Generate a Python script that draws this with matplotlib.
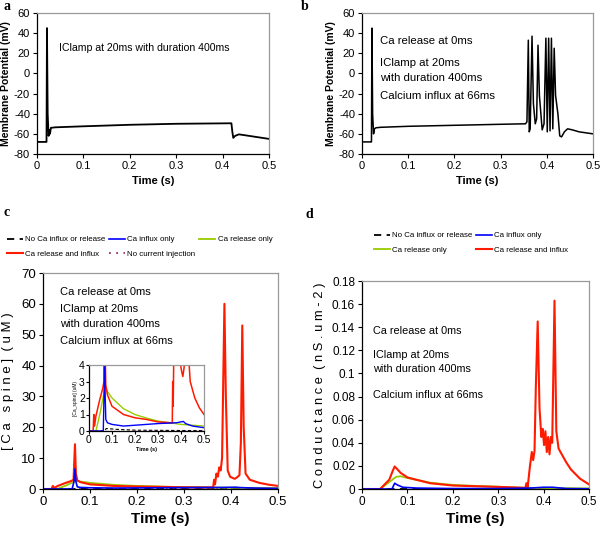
import matplotlib
matplotlib.use("Agg")
import matplotlib.pyplot as plt
from matplotlib import font_manager

names = {f.name for f in font_manager.fontManager.ttflist}
NARROW = ["Liberation Sans Narrow", "Liberation Sans"] if "Liberation Sans Narrow" in names else ["Liberation Sans"]
plt.rcParams["font.family"] = ["Liberation Sans", "DejaVu Sans"]
plt.rcParams["axes.unicode_minus"] = False

# ---- data ----
# a: membrane potential, IClamp only
t_a = [0, 0.0195, 0.0205, 0.0215, 0.023, 0.025, 0.027, 0.028, 0.030, 0.04, 0.1, 0.2, 0.3, 0.419, 0.421, 0.423, 0.427, 0.435, 0.45, 0.5]
v_a = [-68, -68, -68, 45, -40, -62, -56, -60, -54, -53.5, -52.5, -51, -50, -49.5, -58, -64, -62, -60.5, -61.5, -65]

# b: membrane potential, release + clamp + influx
t_b = [0, 0.0195, 0.0205, 0.0215, 0.023, 0.025, 0.027, 0.030, 0.04, 0.1, 0.2, 0.3, 0.354, 0.357, 0.360, 0.362, 0.364, 0.368, 0.371, 0.375, 0.378,
       0.381, 0.384, 0.390, 0.394, 0.398, 0.401, 0.404, 0.407, 0.410, 0.413, 0.416, 0.419, 0.424, 0.428, 0.432, 0.438, 0.445, 0.455, 0.47, 0.5]
v_b = [-68, -68, -68, 45, -40, -60, -55, -54, -53.5, -52.5, -51.5, -50.5, -50, -48, 33, -58, -55, 37, -30, -50, -45,
       28, -22, -56, -50, 35, -58, 35, -57, 35, -55, 25, -22, -40, -62, -63, -58, -55, -56, -58, -60]

# c: [Ca spine] (uM)
t_red_c = [0, 0.018, 0.021, 0.024, 0.03, 0.045, 0.06, 0.065, 0.068, 0.070, 0.073, 0.08, 0.1, 0.15, 0.2, 0.25, 0.3, 0.355, 0.362, 0.364, 0.366, 0.369,
           0.372, 0.375, 0.378, 0.381, 0.386, 0.389, 0.393, 0.398, 0.403, 0.408, 0.413, 0.418, 0.421, 0.424, 0.427, 0.431, 0.44, 0.46, 0.48, 0.5]
ca_red = [0, 0, 1.0, 0.3, 0.9, 1.8, 2.6, 3.0, 14.5, 5.0, 2.8, 2.2, 1.5, 1.0, 0.8, 0.7, 0.55, 0.5, 0.5, 3.0, 1.5, 5.0,
          4.0, 7.0, 6.0, 10, 60, 30, 6.0, 4.0, 3.6, 3.3, 3.8, 4.5, 15, 53, 20, 5.0, 3.0, 2.0, 1.4, 1.0]
t_grn_c = [0, 0.03, 0.05, 0.065, 0.070, 0.08, 0.1, 0.15, 0.2, 0.25, 0.3, 0.35, 0.4, 0.5]
ca_grn = [0, 0, 1.2, 2.3, 2.7, 2.4, 2.0, 1.35, 1.0, 0.78, 0.6, 0.5, 0.4, 0.3]
t_blu_c = [0, 0.062, 0.066, 0.068, 0.070, 0.073, 0.08, 0.1, 0.15, 0.2, 0.25, 0.3, 0.35, 0.38, 0.41, 0.42, 0.45, 0.5]
ca_blu = [0, 0, 2.5, 6.5, 2.4, 0.7, 0.5, 0.4, 0.3, 0.35, 0.4, 0.45, 0.48, 0.5, 0.58, 0.45, 0.3, 0.2]
t_blk_c = [0, 0.066, 0.075, 0.12, 0.2, 0.5]
ca_blk = [0, 0, 0.15, 0.1, 0.05, 0.02]
t_pur_c = [0, 0.5]
ca_pur = [0, 0]

# d: conductance (nS.um-2)
t_red_d = [0, 0.04, 0.06, 0.068, 0.072, 0.078, 0.085, 0.1, 0.15, 0.2, 0.3, 0.36, 0.362, 0.365, 0.37, 0.374, 0.377, 0.38, 0.383, 0.387,
           0.391, 0.395, 0.398, 0.401, 0.404, 0.407, 0.410, 0.413, 0.416, 0.419, 0.424, 0.428, 0.433, 0.44, 0.45, 0.46, 0.48, 0.5]
g_red = [0, 0, 0.008, 0.016, 0.0195, 0.017, 0.014, 0.010, 0.005, 0.003, 0.0018, 0.001, 0.005, 0.002, 0.02, 0.032, 0.025, 0.033, 0.09, 0.145,
         0.07, 0.045, 0.052, 0.038, 0.05, 0.032, 0.045, 0.03, 0.045, 0.04, 0.163, 0.05, 0.035, 0.03, 0.023, 0.017, 0.009, 0.004]
t_grn_d = [0, 0.04, 0.06, 0.075, 0.085, 0.1, 0.15, 0.2, 0.25, 0.3, 0.36, 0.5]
g_grn = [0, 0, 0.006, 0.0105, 0.011, 0.0095, 0.0055, 0.0035, 0.0027, 0.002, 0.001, 0.0005]
t_blu_d = [0, 0.066, 0.072, 0.078, 0.09, 0.12, 0.2, 0.3, 0.37, 0.40, 0.42, 0.45, 0.5]
g_blu = [0, 0, 0.005, 0.0035, 0.0015, 0.0008, 0.0004, 0.0004, 0.0008, 0.0015, 0.0015, 0.0004, 0.0002]
t_blk_d = [0, 0.5]
g_blk = [0, 0]

x_ticks = [0, 0.1, 0.2, 0.3, 0.4, 0.5]
x_tick_labels = ["0", "0.1", "0.2", "0.3", "0.4", "0.5"]

RED = "#ff1a00"
GRN = "#99cc00"
BLU = "#0000ff"
PUR = "#993366"

W, H = 600, 544
fig = plt.figure(figsize=(6.0, 5.44), dpi=100)


def px_axes(l, r, t, b):
    return fig.add_axes([l / W, 1 - b / H, (r - l) / W, (b - t) / H])


def style(ax, size, fam=None):
    for s in ("top", "right"):
        ax.spines[s].set_color("#999999")
    for s in ("left", "bottom"):
        ax.spines[s].set_color("black")
    for s in ax.spines.values():
        s.set_linewidth(0.9)
    ax.tick_params(direction="out", length=3, width=0.8, labelsize=size, pad=2)
    ax.set_xlim(0, 0.5)
    ax.set_xticks(x_ticks)
    ax.set_xticklabels(x_tick_labels)
    if fam:
        for lab in ax.get_xticklabels() + ax.get_yticklabels():
            lab.set_family(fam)


# ---- panel a ----
ax = px_axes(37, 269, 13, 154)
ax.plot(t_a, v_a, color="black", lw=1.3)
ax.set_ylim(-80, 60)
ax.set_yticks(range(-80, 61, 20))
style(ax, 8)
ax.set_xlabel("Time (s)", fontsize=8, fontweight="bold", labelpad=4)
ax.set_ylabel("Membrane Potential (mV)", fontsize=7.5, fontweight="bold", labelpad=2)
ax.text(0.095, 0.73, "IClamp at 20ms with duration 400ms", transform=ax.transAxes, fontsize=7.6)

# ---- panel b ----
ax = px_axes(362, 593, 13, 154)
ax.plot(t_b, v_b, color="black", lw=1.1)
ax.set_ylim(-80, 60)
ax.set_yticks(range(-80, 61, 20))
style(ax, 8)
ax.set_xlabel("Time (s)", fontsize=8, fontweight="bold", labelpad=4)
ax.set_ylabel("Membrane Potential (mV)", fontsize=7.5, fontweight="bold", labelpad=2)
for txt, y in [("Ca release at 0ms", 41), ("IClamp at 20ms", 63), ("with duration 400ms", 78), ("Calcium influx at 66ms", 96)]:
    ax.text(380, H - y, txt, transform=None, fontsize=8.2, va="center")

# ---- panel c ----
axc = px_axes(43, 278, 273, 489)
axc.plot(t_blk_c, ca_blk, color="black", lw=1.3, ls=(0, (4, 3)), label="No Ca influx or release")
axc.plot(t_pur_c, ca_pur, color=PUR, lw=1.3, ls=(0, (1, 3)), label="No current injection")
axc.plot(t_grn_c, ca_grn, color=GRN, lw=1.3, label="Ca release only")
axc.plot(t_red_c, ca_red, color=RED, lw=1.5, label="Ca release and influx")
axc.plot(t_blu_c, ca_blu, color=BLU, lw=1.2, label="Ca influx only")
axc.set_ylim(0, 70)
axc.set_yticks(range(0, 71, 10))
style(axc, 9.5, NARROW)
axc.set_xlabel("Time (s)", fontsize=11, family=NARROW, fontweight="bold", labelpad=3)
axc.set_ylabel("[ C a   s p i n e ]  ( u M )", fontsize=9.5, family=NARROW, labelpad=5)
for txt, y in [("Ca release at 0ms", 292), ("IClamp at 20ms", 309), ("with duration 400ms", 324), ("Calcium influx at 66ms", 341)]:
    axc.text(60, H - y, txt, transform=None, fontsize=8, family=NARROW, va="center")

h, l = axc.get_legend_handles_labels()
order = ["No Ca influx or release", "Ca release and influx", "Ca influx only", "No current injection", "Ca release only"]
hs = [h[l.index(o)] for o in order]
fig.legend(hs, order, ncol=3, loc="upper left", bbox_to_anchor=(2 / W, 1 - 231 / H), frameon=False,
           prop={"family": NARROW, "size": 5.7}, handlelength=2.0, handletextpad=0.3, columnspacing=0.5,
           labelspacing=0.85, borderpad=0.1)

# inset
axi = px_axes(89, 204, 365, 431)
axi.plot(t_blk_c, ca_blk, color="black", lw=0.8, ls=(0, (3, 2)))
axi.plot(t_pur_c, ca_pur, color=PUR, lw=1.0, ls=(0, (1, 2)))
axi.plot(t_grn_c, ca_grn, color=GRN, lw=1.0)
axi.plot(t_red_c, ca_red, color=RED, lw=1.1)
axi.plot(t_blu_c, ca_blu, color=BLU, lw=1.0)
axi.set_ylim(0, 4)
axi.set_yticks(range(0, 5))
style(axi, 7.5, NARROW)
axi.tick_params(length=2, pad=1)
axi.set_xlabel("Time (s)", fontsize=4, fontweight="bold", labelpad=1)
axi.set_ylabel("[Ca_spine] (uM)", fontsize=3.5, labelpad=1)

# ---- panel d ----
axd = px_axes(362, 589, 281, 489)
ld1, = axd.plot(t_blk_d, g_blk, color="black", lw=1.3, ls=(0, (4, 3)))
ld3, = axd.plot(t_grn_d, g_grn, color=GRN, lw=1.3)
ld4, = axd.plot(t_red_d, g_red, color=RED, lw=1.5)
ld2, = axd.plot(t_blu_d, g_blu, color=BLU, lw=1.2)
axd.set_ylim(0, 0.18)
axd.set_yticks([0, 0.02, 0.04, 0.06, 0.08, 0.1, 0.12, 0.14, 0.16, 0.18])
axd.set_yticklabels(["0", "0.02", "0.04", "0.06", "0.08", "0.1", "0.12", "0.14", "0.16", "0.18"])
style(axd, 8.5, NARROW)
axd.set_xlabel("Time (s)", fontsize=11, family=NARROW, fontweight="bold", labelpad=3)
axd.set_ylabel("C o n d u c t a n c e  ( n S . u m - 2 )", fontsize=9.3, family=NARROW, labelpad=4)
for txt, y in [("Ca release at 0ms", 331), ("IClamp at 20ms", 355), ("with duration 400ms", 369), ("Calcium influx at 66ms", 395)]:
    axd.text(373, H - y, txt, transform=None, fontsize=7.8, family=NARROW, va="center")
fig.legend([ld1, ld3, ld2, ld4], ["No Ca influx or release", "Ca release only", "Ca influx only", "Ca release and influx"],
           ncol=2, loc="upper left", bbox_to_anchor=(369 / W, 1 - 227 / H), frameon=False,
           prop={"family": NARROW, "size": 5.7}, handlelength=2.0, handletextpad=0.3, columnspacing=0.5,
           labelspacing=0.85, borderpad=0.1)

# panel letters
for letter, x, y in [("a", 3, 6), ("b", 301, 6), ("c", 4, 213), ("d", 306, 215)]:
    fig.text(x / W, 1 - y / H, letter, fontsize=10, fontweight="bold", family="Liberation Serif", va="center")

fig.savefig("out.png", dpi=100, facecolor="white")
